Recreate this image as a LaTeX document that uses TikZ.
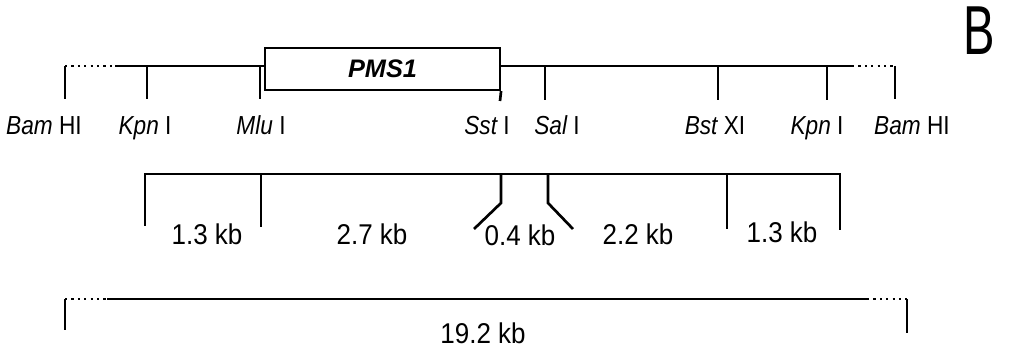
\documentclass[tikz,border=0pt]{standalone}
\usepackage{fontspec}
\setmainfont{Liberation Sans}
\begin{document}
\begin{tikzpicture}[x=0.75pt,y=-0.75pt,
  map/.style={line width=2pt},
  dots/.style={line width=2pt, dash pattern=on 1.6pt off 3.2pt},
  site/.style={font=\fontsize{17}{20}\selectfont, inner sep=0pt, anchor=base, yscale=1.15},
  kb/.style={font=\fontsize{19.5}{22}\selectfont, inner sep=0pt, anchor=base, yscale=1.1},
  pmsbox/.style={draw, line width=1.6pt, minimum width=176.25pt, minimum height=31.5pt, inner sep=0pt, font=\fontsize{19}{22}\selectfont\bfseries\itshape}]
\useasboundingbox (0,0) rectangle (1021,348);

% ---- top restriction map ----
\node[pmsbox] (pms) at (382.5,69) {PMS1};
\coordinate (a1) at (65,66);   \coordinate (a1b) at (65,99);
\coordinate (a1d) at (115,66);
\coordinate (a2) at (147,66);  \coordinate (a2b) at (147,99);
\coordinate (a3) at (260,66);  \coordinate (a3b) at (260,99);
\coordinate (bl) at (pms.west |- a1);
\coordinate (br) at (pms.east |- a1);
\coordinate (a4) at (pms.south east); \coordinate (a4b) at (500,101);
\coordinate (a5) at (545,66);  \coordinate (a5b) at (545,100);
\coordinate (a6) at (718,66);  \coordinate (a6b) at (718,100);
\coordinate (a7) at (827,66);  \coordinate (a7b) at (827,100);
\coordinate (a7d) at (852,66);
\coordinate (a8) at (895,66);  \coordinate (a8b) at (895,99);

\draw[dots] (a1) -- (a1d);
\draw[map] (a1d) -- (bl);
\draw[map] (br) -- (a7d);
\draw[dots] (a7d) -- (a8);
\draw[map] (a1) -- (a1b);
\draw[map] (a2) -- (a2b);
\draw[map] (a3) -- (a3b);
\draw[map] (a4) -- (a4b);
\draw[map] (a5) -- (a5b);
\draw[map] (a6) -- (a6b);
\draw[map] (a7) -- (a7b);
\draw[map] (a8) -- (a8b);

\node[site] (l1) at (44,135) {\itshape Bam\upshape\ HI};
\node[site] (l2) at (145,135) {\itshape Kpn\upshape\ I};
\node[site] (l3) at (261,135) {\itshape Mlu\upshape\ I};
\node[site] (l4) at (487,135) {\itshape Sst\upshape\ I};
\node[site] (l5) at (557,135) {\itshape Sal\upshape\ I};
\node[site] (l6) at (715,135) {\itshape Bst\upshape\ XI};
\node[site] (l7) at (817,135) {\itshape Kpn\upshape\ I};
\node[site] (l8) at (912,135) {\itshape Bam\upshape\ HI};

% ---- fragments ----
\coordinate (m1) at (145,174); \coordinate (m1b) at (145,226);
\coordinate (m2) at (261,174); \coordinate (m2b) at (261,227);
\coordinate (m3) at (501,174); \coordinate (m3k) at (501,203); \coordinate (m3b) at (474,229);
\coordinate (m4) at (548,174); \coordinate (m4k) at (548,203); \coordinate (m4b) at (573,229);
\coordinate (m5) at (727,174); \coordinate (m5b) at (727,229);
\coordinate (m6) at (840,174); \coordinate (m6b) at (840,230);

\draw[map] (m1b) -- (m1) -- (m6) -- (m6b);
\draw[map] (m2) -- (m2b);
\draw[map] (m3) -- (m3k) -- (m3b);
\draw[map] (m4) -- (m4k) -- (m4b);
\draw[map] (m5) -- (m5b);

\node[kb] (k1) at (207,245) {1.3 kb};
\node[kb] (k2) at (372,245) {2.7 kb};
\node[kb] (k3) at (520,246) {0.4 kb};
\node[kb] (k4) at (638,245) {2.2 kb};
\node[kb] (k5) at (782,243) {1.3 kb};

% ---- total ----
\coordinate (b1) at (65,299);  \coordinate (b1b) at (65,330);
\coordinate (b1d) at (107,299);
\coordinate (b2d) at (867,299);
\coordinate (b2) at (907,299); \coordinate (b2b) at (907,333);
\draw[map] (b1) -- (b1b);
\draw[dots] (b1) -- (b1d);
\draw[map] (b1d) -- (b2d);
\draw[dots] (b2d) -- (b2);
\draw[map] (b2) -- (b2b);
\node[kb] (tot) at (483,344) {19.2 kb};

% ---- panel letter ----
\node[inner sep=0pt, anchor=base, xscale=0.68, text height=37pt, text depth=0pt, font=\fontsize{52}{56}\selectfont] (B) at (979,55) {B};
\end{tikzpicture}
\end{document}
